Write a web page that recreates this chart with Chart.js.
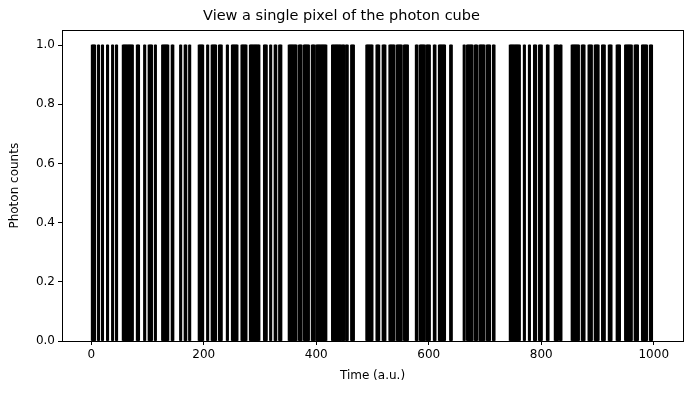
<!DOCTYPE html>
<html>
<head>
<meta charset="utf-8">
<script src="https://cdn.jsdelivr.net/npm/chart.js@4.4.1/dist/chart.umd.min.js"></script>
<style>
  html, body { margin: 0; padding: 0; background: #fff; }
  canvas { display: block; }
</style>
</head>
<body>
<canvas id="photonChart" width="691" height="393"></canvas>
<script>
// time bins (a.u.) where the pixel registered a photon, as [first, last] runs
const photonRuns = [
  [1, 7], [12, 14], [19, 21], [28, 30], [37, 39], [44, 46], [56, 74], [81, 85],
  [94, 96], [102, 108], [113, 115], [126, 137], [143, 146], [158, 160], [166, 169],
  [174, 176], [191, 199], [206, 208], [214, 222], [227, 232], [241, 243], [250, 260],
  [267, 276], [282, 299], [307, 312], [318, 320], [326, 329], [334, 338], [351, 365],
  [369, 374], [378, 387], [392, 397], [400, 418], [428, 444], [446, 450], [453, 456],
  [462, 467], [489, 500], [507, 512], [518, 523], [530, 539], [543, 552], [556, 563],
  [577, 580], [584, 593], [596, 602], [609, 612], [618, 629], [638, 641], [662, 664],
  [668, 678], [682, 686], [690, 699], [703, 709], [714, 717], [744, 762], [769, 771],
  [778, 780], [787, 791], [796, 801], [810, 813], [824, 830], [833, 836], [854, 867],
  [872, 877], [884, 890], [895, 902], [908, 913], [920, 925], [934, 940], [949, 961],
  [966, 972], [979, 988], [993, 997]
];
const xTicks = [0, 200, 400, 600, 800, 1000];
const yTicks = [0, 0.2, 0.4, 0.6, 0.8, 1.0];

// one bar of height 1 per photon bin
const counts = [];
photonRuns.forEach(([a, b]) => {
    for (let t = a; t <= b; t++) counts.push({ x: t, y: 1 });
});

Chart.defaults.font.family = "'DejaVu Sans', sans-serif";
Chart.defaults.color = '#000';

// matplotlib style box around the axes
const frame = {
    id: 'frame',
    afterDraw(chart) {
        const { ctx, chartArea: a } = chart;
        ctx.save();
        ctx.strokeStyle = '#000';
        ctx.lineWidth = 1;
        ctx.strokeRect(Math.round(a.left) + 0.5, Math.round(a.top) + 0.5,
            Math.round(a.right - a.left), Math.round(a.bottom - a.top));
        ctx.restore();
    }
};

new Chart(document.getElementById('photonChart'), {
    type: 'bar',
    data: {
        datasets: [{
            data: counts,
            backgroundColor: '#000',
            borderWidth: 0,
            barThickness: 1.3,
            grouped: false
        }]
    },
    options: {
        responsive: false,
        animation: false,
        layout: { padding: { left: 0, right: 8, top: 0, bottom: 0 } },
        plugins: {
            legend: { display: false },
            tooltip: { enabled: false },
            title: {
                display: true,
                text: 'View a single pixel of the photon cube',
                font: { size: 14.5, weight: 'normal' },
                color: '#000',
                padding: { top: 8, bottom: 5 }
            }
        },
        scales: {
            x: {
                type: 'linear',
                offset: false,
                min: -52,
                max: 1052,
                afterFit: s => { s.height = 52; },
                afterBuildTicks: s => { s.ticks = xTicks.map(v => ({ value: v })); },
                ticks: { font: { size: 12 }, padding: 3, maxRotation: 0, callback: v => v },
                grid: { display: true, offset: false, drawOnChartArea: false, drawTicks: true, tickLength: 4, color: '#000' },
                border: { display: true, color: '#000' },
                title: { display: true, text: 'Time (a.u.)', font: { size: 12 }, padding: { top: 4, bottom: 10 } }
            },
            y: {
                min: 0,
                max: 1.05,
                afterFit: s => { s.width = 62; },
                afterBuildTicks: s => { s.ticks = yTicks.map(v => ({ value: v })); },
                ticks: { font: { size: 12 }, padding: 3, callback: v => Number(v).toFixed(1) },
                grid: { display: true, drawOnChartArea: false, drawTicks: true, tickLength: 4, color: '#000' },
                border: { display: true, color: '#000' },
                title: { display: true, text: 'Photon counts', font: { size: 12 }, padding: { top: 8, bottom: 4 } }
            }
        }
    },
    plugins: [frame]
});
</script>
</body>
</html>
